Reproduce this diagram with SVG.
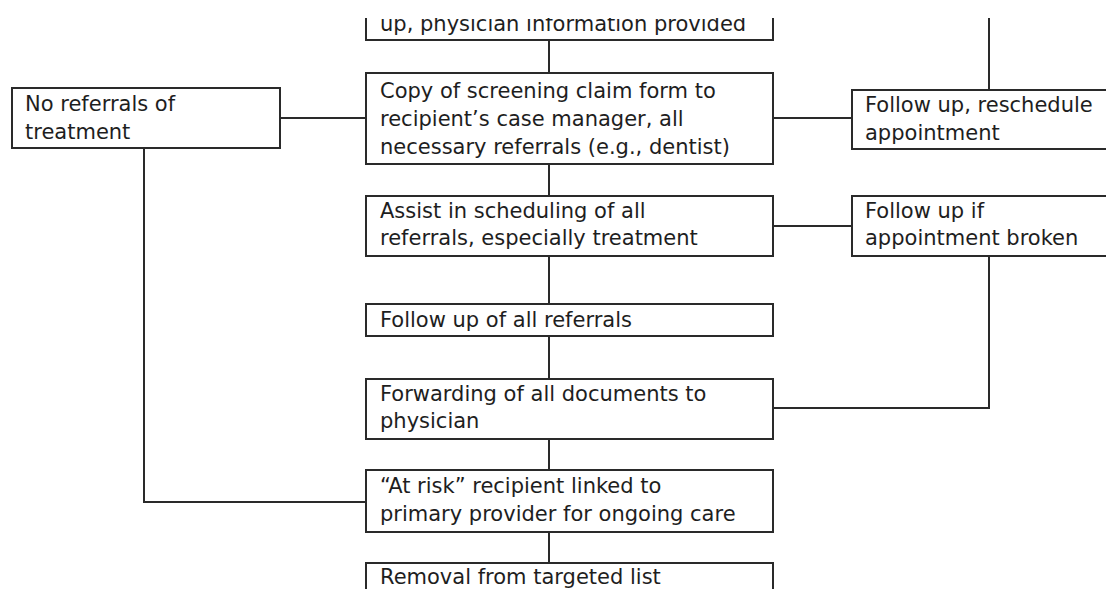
<svg xmlns="http://www.w3.org/2000/svg" width="1106" height="589" viewBox="0 0 1106 589">
<style>
.box{fill:#fff;stroke:#2a2a2a;stroke-width:2}
.ln{fill:none;stroke:#2a2a2a;stroke-width:2}
text{font-family:"DejaVu Sans",Verdana,sans-serif;font-size:21px;fill:#1e1e1e}
</style>
<defs>
<clipPath id="clipTop"><rect x="0" y="18" width="1106" height="571"/></clipPath>
</defs>
<rect width="1106" height="589" fill="#fff"/>
<g id="connectors">
<path class="ln" d="M549,40 V73"/>
<path class="ln" d="M280,118 H366"/>
<path class="ln" d="M773,118 H852"/>
<path class="ln" d="M989,18 V90"/>
<path class="ln" d="M549,164 V196"/>
<path class="ln" d="M773,226 H852"/>
<path class="ln" d="M549,256 V304"/>
<path class="ln" d="M549,336 V379"/>
<path class="ln" d="M989,256 V408 H773"/>
<path class="ln" d="M549,439 V470"/>
<path class="ln" d="M144,148 V502 H366"/>
<path class="ln" d="M549,532 V563"/>
</g>
<g id="n-top" clip-path="url(#clipTop)">
<rect class="box" x="366" y="-20" width="407" height="60"/>
<text x="380" y="31">up, physician information provided</text>
</g>
<g id="n-copy">
<rect class="box" x="366" y="73" width="407" height="91"/>
<text x="380" y="98">Copy of screening claim form to</text>
<text x="380" y="126">recipient’s case manager, all</text>
<text x="380" y="154">necessary referrals (e.g., dentist)</text>
</g>
<g id="n-noref">
<rect class="box" x="12" y="88" width="268" height="60"/>
<text x="25" y="111">No referrals of</text>
<text x="25" y="139">treatment</text>
</g>
<g id="n-resched">
<rect class="box" x="852" y="90" width="270" height="59"/>
<text x="865" y="112">Follow up, reschedule</text>
<text x="865" y="140">appointment</text>
</g>
<g id="n-assist">
<rect class="box" x="366" y="196" width="407" height="60"/>
<text x="380" y="218">Assist in scheduling of all</text>
<text x="380" y="245">referrals, especially treatment</text>
</g>
<g id="n-broken">
<rect class="box" x="852" y="196" width="270" height="60"/>
<text x="865" y="218">Follow up if</text>
<text x="865" y="245">appointment broken</text>
</g>
<g id="n-followall">
<rect class="box" x="366" y="304" width="407" height="32"/>
<text x="380" y="327">Follow up of all referrals</text>
</g>
<g id="n-forward">
<rect class="box" x="366" y="379" width="407" height="60"/>
<text x="380" y="401">Forwarding of all documents to</text>
<text x="380" y="428">physician</text>
</g>
<g id="n-atrisk">
<rect class="box" x="366" y="470" width="407" height="62"/>
<text x="380" y="493">“At risk” recipient linked to</text>
<text x="380" y="521">primary provider for ongoing care</text>
</g>
<g id="n-removal">
<rect class="box" x="366" y="563" width="407" height="40"/>
<text x="380" y="584">Removal from targeted list</text>
</g>
</svg>
